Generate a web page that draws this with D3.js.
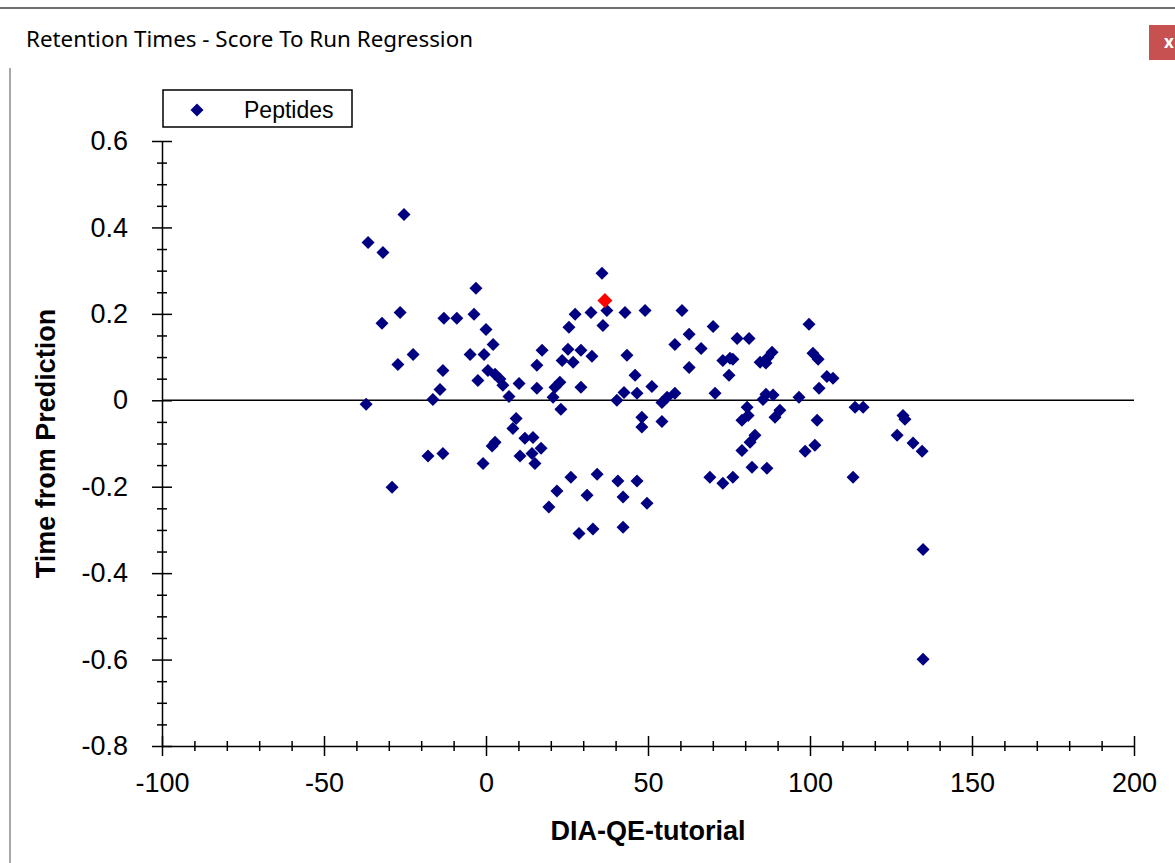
<!DOCTYPE html>
<html><head><meta charset="utf-8">
<script src="https://cdn.jsdelivr.net/npm/d3@7"></script>
<style>body{margin:0;background:#fff;overflow:hidden} svg{display:block}</style>
</head><body>
<svg id="c" width="1175" height="863"></svg>
<script>
const windowTitle = "Retention Times - Score To Run Regression";
const seriesName = "Peptides";
const xTitle = "DIA-QE-tutorial";
const yTitle = "Time from Prediction";
const xTickValues = [-100, -50, 0, 50, 100, 150, 200];
const yTickValues = [0.6, 0.4, 0.2, 0, -0.2, -0.4, -0.6, -0.8];

const peptideX = [-36.4,-31.8,-25.3,-37.0,-32.1,-26.5,-27.2,-22.5,-29.0,-16.4,-17.9,-14.2,-13.3,-13.3,-13.0,-9.0,-4.9,-3.7,-3.1,-2.5,
 -0.9,-0.6,0.0,0.6,2.2,2.8,4.3,5.2,7.1,10.2,9.3,8.3,2.8,1.9,12.0,14.5,10.5,14.2,15.1,15.7,
 15.7,17.3,17.0,19.4,20.7,21.3,22.8,23.1,21.9,23.5,25.3,25.6,26.2,26.9,27.5,29.3,29.3,28.7,31.2,32.4,
 32.7,33.0,34.3,35.8,36.1,37.3,40.4,40.7,42.3,42.3,42.6,42.9,43.5,46.0,46.6,46.6,48.1,48.1,49.1,49.7,
 51.2,54.3,54.3,55.9,58.3,58.3,60.5,62.7,62.7,66.4,70.1,70.7,69.1,73.1,73.1,75.3,76.2,75.0,76.2,77.5,
 81.2,79.0,80.9,80.6,83.0,81.5,79.0,82.1,84.6,86.4,87.0,88.3,86.4,88.6,85.5,86.7,90.7,89.2,96.6,99.7,
 100.9,102.5,102.2,102.8,105.2,107.1,101.5,98.5,113.3,113.9,116.4,128.7,129.3,126.9,131.8,134.6,134.9,134.9];
const peptideY = [0.365,0.342,0.430,-0.009,0.178,0.203,0.083,0.106,-0.201,0.002,-0.129,0.025,0.069,-0.123,0.190,0.190,0.106,0.199,0.259,0.046,
 -0.146,0.106,0.164,0.069,0.129,0.060,0.049,0.035,0.009,0.039,-0.042,-0.065,-0.097,-0.106,-0.088,-0.086,-0.129,-0.123,-0.146,0.028,
 0.081,0.116,-0.111,-0.247,0.007,0.030,0.042,-0.021,-0.210,0.092,0.118,0.169,-0.178,0.088,0.199,0.116,0.030,-0.308,-0.220,0.203,
 0.102,-0.298,-0.171,0.294,0.173,0.208,0.000,-0.187,-0.224,-0.294,0.018,0.203,0.104,0.058,0.016,-0.187,-0.039,-0.062,0.208,-0.238,
 0.032,-0.049,-0.005,0.007,0.016,0.129,0.208,0.153,0.076,0.120,0.171,0.016,-0.178,-0.192,0.092,0.097,0.095,0.058,-0.178,0.143,
 0.143,-0.046,-0.035,-0.016,-0.081,-0.097,-0.116,-0.155,0.088,0.086,0.099,0.111,0.014,0.012,0.002,-0.157,-0.023,-0.039,0.007,0.176,
 0.109,0.095,-0.046,0.028,0.055,0.051,-0.104,-0.118,-0.178,-0.016,-0.016,-0.035,-0.044,-0.081,-0.099,-0.118,-0.345,-0.599];
const selectedX = [36.7];
const selectedY = [0.231];

const svg = d3.select("#c");
const font = "'Liberation Sans', Arial, sans-serif";

// window chrome
svg.append("line").attr("x1",0).attr("x2",1175).attr("y1",8).attr("y2",8).attr("stroke","#707070").attr("stroke-width",2);
svg.append("text").attr("x",26).attr("y",47).attr("font-family","'Noto Sans', 'Open Sans', sans-serif").attr("font-size",21.5)
  .attr("textLength",447).attr("lengthAdjust","spacingAndGlyphs")
  .attr("fill","#000").text(windowTitle);
svg.append("rect").attr("x",1149).attr("y",25).attr("width",26).attr("height",35).attr("fill","#c75050");
svg.append("text").attr("x",1169).attr("y",48).attr("font-family","'Noto Sans', sans-serif").attr("font-size",17).attr("font-weight","bold")
  .attr("fill","#fff").attr("text-anchor","middle").text("x");
svg.append("line").attr("x1",10).attr("x2",10).attr("y1",68).attr("y2",863).attr("stroke","#a8a8a8").attr("stroke-width",2);

const x = d3.scaleLinear().domain([-100, 200]).range([162, 1134]);
const y = d3.scaleLinear().domain([-0.8, 0.6]).range([746, 141]);

function fmt(v){ return String(Math.round(v*10)/10); }

// y minor ticks
const yMinor = d3.range(-0.8, 0.6001, 0.05).filter(v => !yTickValues.some(t => Math.abs(t - v) < 1e-6));
const gyMinor = svg.append("g").attr("transform","translate(162,0)")
  .call(d3.axisLeft(y).tickValues(yMinor).tickSize(5).tickSizeOuter(0).tickFormat(""));
gyMinor.select(".domain").remove();
gyMinor.selectAll(".tick line").attr("x1",5).attr("stroke","#000").attr("stroke-width",1.5);

const gy = svg.append("g").attr("transform","translate(162,0)")
  .call(d3.axisLeft(y).tickValues(yTickValues).tickSize(10).tickSizeOuter(0).tickPadding(24).tickFormat(fmt));
gy.select(".domain").attr("stroke","#000").attr("stroke-width",1.5);
gy.selectAll(".tick line").attr("x1",10).attr("stroke","#000").attr("stroke-width",1.5);
gy.selectAll(".tick text").attr("font-family",font).attr("font-size",27).attr("fill","#000");

// x minor ticks
const xMinor = d3.range(-100, 200.001, 10).filter(v => !xTickValues.includes(Math.round(v)));
const gxMinor = svg.append("g").attr("transform","translate(0,746)")
  .call(d3.axisBottom(x).tickValues(xMinor).tickSize(5).tickSizeOuter(0).tickFormat(""));
gxMinor.select(".domain").remove();
gxMinor.selectAll(".tick line").attr("y1",-5).attr("stroke","#000").attr("stroke-width",1.5);

const gx = svg.append("g").attr("transform","translate(0,746)")
  .call(d3.axisBottom(x).tickValues(xTickValues).tickSize(10).tickSizeOuter(0).tickPadding(17).tickFormat(v => String(v)));
gx.select(".domain").attr("stroke","#000").attr("stroke-width",1.5);
gx.selectAll(".tick line").attr("y1",-10).attr("stroke","#000").attr("stroke-width",1.5);
gx.selectAll(".tick text").attr("font-family",font).attr("font-size",27).attr("fill","#000");

// zero line
svg.append("line").attr("x1",x(-100)).attr("x2",x(200)).attr("y1",y(0)).attr("y2",y(0))
  .attr("stroke","#000").attr("stroke-width",1.5);

// axis titles
svg.append("text").attr("x",x(50)).attr("y",840).attr("text-anchor","middle")
  .attr("font-family",font).attr("font-size",27).attr("font-weight","bold").text(xTitle);
svg.append("text").attr("transform",`translate(46,${(y(0.6)+y(-0.8))/2}) rotate(-90)`).attr("dy","0.35em")
  .attr("text-anchor","middle").attr("font-family",font).attr("font-size",27).attr("font-weight","bold").text(yTitle);

// points
const diamond = r => `M0,${-r}L${r},0L0,${r}L${-r},0Z`;
const pts = peptideX.map((v,i) => ({x:v, y:peptideY[i]}));
svg.append("g").selectAll("path").data(pts).join("path")
  .attr("transform", d => `translate(${x(d.x)},${y(d.y)})`)
  .attr("d", diamond(6.5)).attr("fill","#000080");
const sel = selectedX.map((v,i) => ({x:v, y:selectedY[i]}));
svg.append("g").selectAll("path").data(sel).join("path")
  .attr("transform", d => `translate(${x(d.x)},${y(d.y)})`)
  .attr("d", diamond(7.5)).attr("fill","#ff0000");

// legend
const lg = svg.append("g");
lg.append("rect").attr("x",163).attr("y",90).attr("width",189).attr("height",37)
  .attr("fill","#fff").attr("stroke","#000").attr("stroke-width",1.5);
lg.append("path").attr("transform","translate(197,110)").attr("d",diamond(6.5)).attr("fill","#000080");
lg.append("text").attr("x",244).attr("y",118).attr("font-family",font).attr("font-size",23).attr("fill","#000").text(seriesName);
</script>
</body></html>
